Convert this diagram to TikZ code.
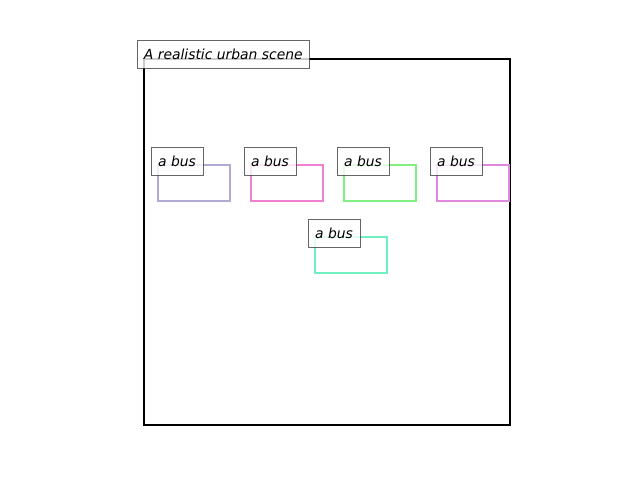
\documentclass[tikz,border=0pt]{standalone}
\usepackage{fontspec}
\setmainfont{DejaVu Sans}
\begin{document}
\begin{tikzpicture}[x=0.72pt,y=-0.72pt,
  frame/.style={draw=black, line width=1.44pt, minimum width=263.52pt, minimum height=263.52pt, inner sep=0pt, outer sep=0pt},
  busbox/.style={draw=#1, line width=1.44pt, minimum width=51.84pt, minimum height=25.92pt, inner sep=0pt, outer sep=0pt},
  lbl/.style={draw=black!75, draw opacity=0.8, fill=white, fill opacity=0.8, text opacity=1, line width=0.72pt, minimum width=37.44pt, minimum height=20.16pt, inner sep=0pt, font=\fontsize{10}{12}\selectfont\itshape},
  title/.style={lbl, minimum width=123.84pt}]
\definecolor{c1}{RGB}{178,170,212}
\definecolor{c2}{RGB}{240,128,208}
\definecolor{c3}{RGB}{128,240,128}
\definecolor{c4}{RGB}{224,136,224}
\definecolor{c5}{RGB}{112,240,192}
\useasboundingbox (0,0) rectangle (640,480);
\node[frame] (scene) at (327,242) {};
\node[busbox=c1] (b1) at (194,183) {};
\node[busbox=c2] (b2) at (287,183) {};
\node[busbox=c3] (b3) at (380,183) {};
\node[busbox=c4] (b4) at (473,183) {};
\node[busbox=c5] (b5) at (351,255) {};
\node[lbl] (l1) at (177,161) {a bus};
\node[lbl] (l2) at (270,161) {a bus};
\node[lbl] (l3) at (363,161) {a bus};
\node[lbl] (l4) at (456,161) {a bus};
\node[lbl] (l5) at (334,233) {a bus};
\node[title] (t) at (223.3,54) {A realistic urban scene};
\end{tikzpicture}
\end{document}
